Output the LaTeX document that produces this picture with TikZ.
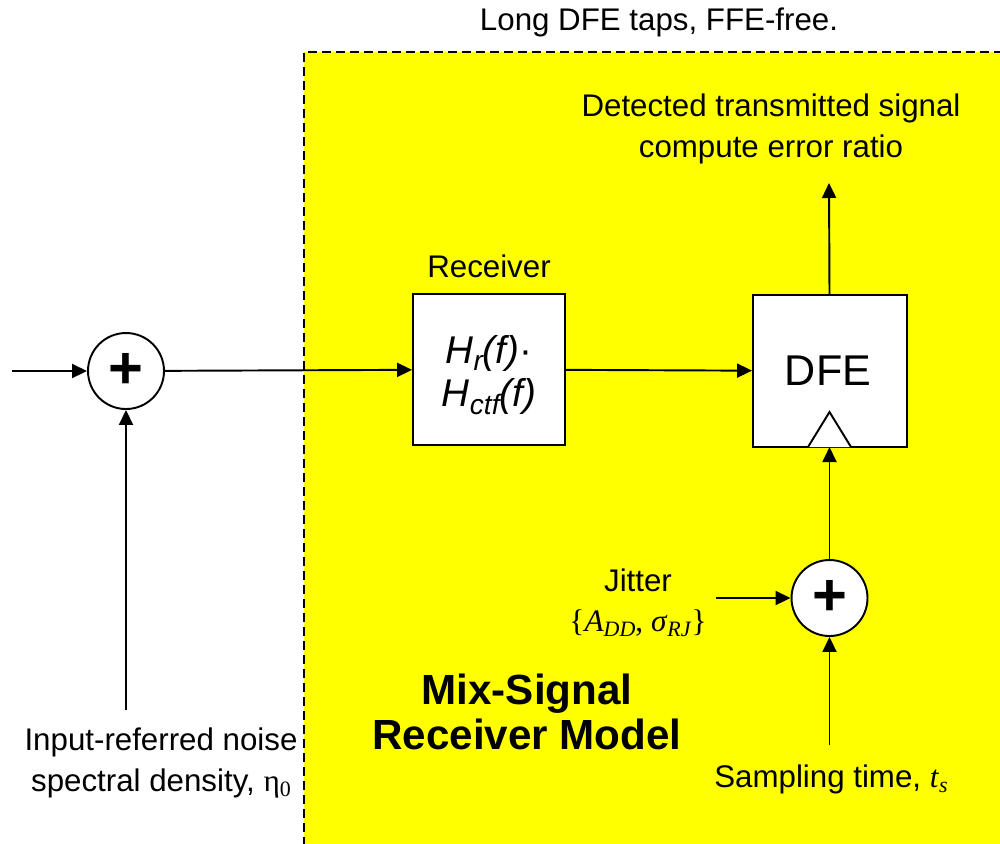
\documentclass[tikz,border=0pt]{standalone}
\usepackage{fontspec}
\setmainfont{Liberation Sans}
\newfontfamily\tms{Liberation Serif}
\usetikzlibrary{arrows.meta}
\definecolor{bgyellow}{RGB}{255,255,0}
\newcommand{\lowsub}[1]{\raisebox{-0.35ex}{\fontsize{12.5pt}{12.5pt}\selectfont #1}}
\begin{document}
\begin{tikzpicture}[x=0.02cm,y=-0.02cm,
  every node/.style={font=\fontsize{17.8pt}{23pt}\selectfont},
  conn/.style={line width=1.1pt,-{Triangle[length=0.3cm,width=0.28cm]}},
  blk/.style={draw,line width=1.1pt,fill=white,inner sep=0pt},
  summer/.style={draw,circle,line width=1.1pt,fill=white,minimum size=1.52cm,inner sep=0pt,
     font=\fontsize{34pt}{34pt}\selectfont\bfseries}]
\useasboundingbox (0,0) rectangle (1000,843);
\fill[bgyellow] (304,52) rectangle (1020,860);
\draw[line width=1.1pt,dash pattern=on 0.18cm off 0.1cm] (304,860) -- (304,52) -- (1020,52);

\node (top) at (659,22) {Long DFE taps, FFE-free.};
\node[align=center] (det) at (771,129) {Detected transmitted signal\\compute error ratio};
\coordinate (detin) at (829,183);

\node (sum1) [summer] at (126,371) {+};
\coordinate (inL) at (12,371);
\coordinate (noise) at (126,710);
\node[align=center] (noiselab) at (161,763) {Input-referred noise\\spectral density, {\tms η\lowsub{0}}};

\node (rx) [blk,minimum width=3.04cm,minimum height=3.02cm] at (489,369.5) {};
\node (rxlab) at (489,266) {Receiver};
\node[align=center,font=\fontsize{22pt}{25pt}\selectfont\itshape] (rxtxt) at (489,375)
   {H\lowsub{\fontsize{16pt}{16pt}\selectfont r}(f)\textup{·}\\H\lowsub{\fontsize{16pt}{16pt}\selectfont ctf}(f)};

\node (dfe) [blk,minimum width=3.08cm,minimum height=3.04cm] at (830,371) {};
\node[font=\fontsize{24.5pt}{24.5pt}\selectfont] (dfetxt) at (828,371) {DFE};
\draw[line width=1.1pt,fill=white] (808,447) -- (829.5,412) -- (851,447);
\coordinate (clk) at (829.5,447);

\node (sum2) [summer] at (829.5,598) {+};
\coordinate (jitin) at (716,598);
\node[align=center] (jit) at (638,603) {Jitter\\{\tms\{\textit{A}\lowsub{\textit{DD}}, \textit{σ}\lowsub{\textit{RJ}}\}}};
\coordinate (samp) at (829.5,745);
\node (samplab) at (831,779) {Sampling time, {\tms\textit{t}\lowsub{\textit{s}}}};

\node[align=center,font=\fontsize{24pt}{26pt}\selectfont\bfseries] (title) at (527,712) {Mix-Signal\\Receiver Model};

\draw[conn] (inL) -- (sum1);
\draw[conn] (noise) -- (sum1);
\draw[conn] (sum1) -- (rx);
\draw[conn] (rx) -- (dfe);
\draw[conn] (dfe.north -| clk) -- (detin);
\draw[conn] (jitin) -- (sum2);
\draw[conn] (samp) -- (sum2);
\draw[conn] (sum2) -- (clk);
\end{tikzpicture}
\end{document}
